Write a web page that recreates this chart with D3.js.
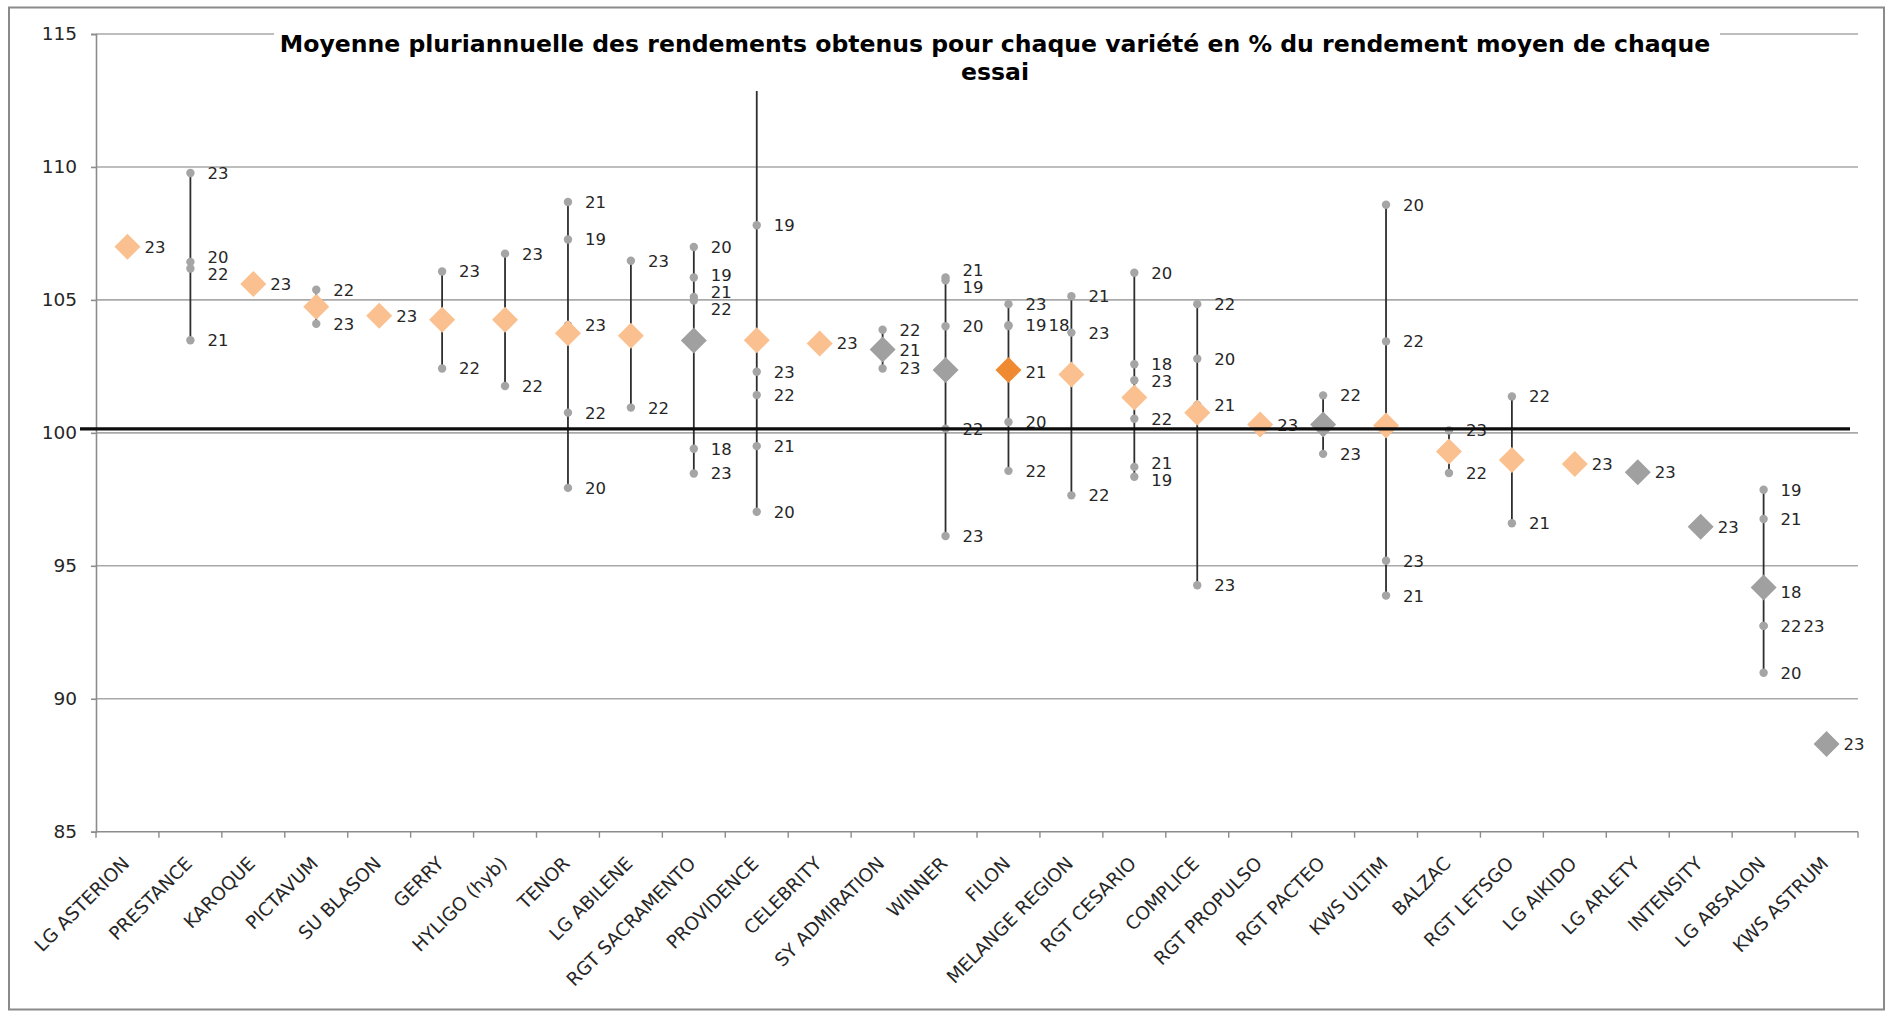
<!DOCTYPE html>
<html>
<head>
<meta charset="utf-8">
<script src="https://cdn.jsdelivr.net/npm/d3@7"></script>
<style>
  html, body { margin: 0; padding: 0; background: #fff; }
  svg { display: block; }
  text { font-family: "DejaVu Sans", Verdana, sans-serif; }
</style>
</head>
<body>
<script>
// ---------------- DATA ----------------
const categories = ["LG ASTERION","PRESTANCE","KAROQUE","PICTAVUM","SU BLASON","GERRY","HYLIGO (hyb)","TENOR","LG ABILENE","RGT SACRAMENTO","PROVIDENCE","CELEBRITY","SY ADMIRATION","WINNER","FILON","MELANGE REGION","RGT CESARIO","COMPLICE","RGT PROPULSO","RGT PACTEO","KWS ULTIM","BALZAC","RGT LETSGO","LG AIKIDO","LG ARLETY","INTENSITY","LG ABSALON","KWS ASTRUM"];

// multi-year mean (diamond), null = no diamond
const meanValues = [107.0, null, 105.6, 104.74, 104.4, 104.25, 104.25, 103.75, 103.65, 103.47, 103.48, 103.36, 103.13, 102.36, 102.36, 102.19, 101.33, 100.76, 100.31, 100.31, 100.28, 99.30, 98.98, 98.83, 98.52, 96.47, 94.18, 88.30];
// diamond group: "o" = light orange, "g" = grey, "d" = dark orange
const meanGroup = ["o", null, "o","o","o","o","o","o","o","g","o","o","g","g","d","o","o","o","o","g","o","o","o","o","g","g","g","g"];

const yearLabels = ["18","19","20","21","22","23"];
const year18 = [null,null,null,null,null,null,null,null,null,99.40,null,null,null,null,104.02,null,102.58,null,null,null,null,null,null,null,null,null,94.00,null];
const year19 = [null,null,null,null,null,null,null,107.27,null,105.84,107.81,null,null,105.74,104.05,null,98.35,null,null,null,null,null,null,null,null,null,97.86,null];
const year20 = [null,106.43,null,null,null,null,null,97.93,null,106.99,97.03,null,null,104.01,100.41,null,106.02,102.79,null,null,108.58,null,null,null,null,null,90.98,null];
const year21 = [null,103.48,null,null,null,null,null,108.68,null,105.11,99.50,null,103.10,105.84,102.27,105.14,98.72,101.05,null,null,93.88,null,96.60,null,null,null,96.76,null];
const year22 = [null,106.18,null,105.38,null,102.42,101.76,100.76,100.95,104.98,101.42,null,103.88,100.16,98.57,97.65,100.53,104.84,null,101.41,103.44,98.49,101.37,null,null,null,92.74,null];
const year23 = [107.0,109.77,105.6,104.10,104.4,106.07,106.74,104.05,106.47,98.47,102.3,103.36,102.42,96.12,104.84,103.77,101.98,94.27,100.31,99.21,95.19,100.09,null,98.83,98.52,96.47,92.74,88.30];
// unlabelled extreme that only extends the min-max line
const extraExtent = [null,null,null,null,null,null,null,null,null,null,112.86,null,null,null,null,null,null,null,null,null,null,null,null,null,null,null,null,null];

const referenceValue = 100.15;
const yTicks = [85, 90, 95, 100, 105, 110, 115];
const titleLines = ["Moyenne pluriannuelle des rendements obtenus pour chaque variété en % du rendement moyen de chaque", "essai"];

// ---------------- LAYOUT ----------------
const W = 1888, H = 1012;
const plot = { left: 96, right: 1858, top: 34, bottom: 831.7 };

const svg = d3.select("body").append("svg").attr("width", W).attr("height", H);
svg.append("rect").attr("width", W).attr("height", H).attr("fill", "#fff");
svg.append("rect").attr("x", 9).attr("y", 7.5).attr("width", 1875).attr("height", 1002)
  .attr("fill", "none").attr("stroke", "#8a8a8a").attr("stroke-width", 2);

const x = d3.scaleBand().domain(categories).range([plot.left, plot.right]).padding(0);
const y = d3.scaleLinear().domain([85, 115]).range([plot.bottom, plot.top]);
const cx = c => x(c) + x.bandwidth() / 2;

// gridlines
svg.append("g").selectAll("line").data(yTicks.filter(t => t > 85)).join("line")
  .attr("x1", plot.left).attr("x2", plot.right)
  .attr("y1", d => y(d)).attr("y2", d => y(d))
  .attr("stroke", "#a9a9a9").attr("stroke-width", 1.6);

// y axis
const yAxis = d3.axisLeft(y).tickValues(yTicks).tickSize(5).tickPadding(14).tickFormat(d3.format("d"));
const gy = svg.append("g").attr("transform", `translate(${plot.left},0)`).call(yAxis);
gy.select(".domain").attr("stroke", "#8c8c8c").attr("stroke-width", 1.6);
gy.selectAll(".tick line").attr("stroke", "#8c8c8c").attr("stroke-width", 1.6);
gy.selectAll(".tick text").attr("font-size", 18.5).attr("fill", "#262626").attr("font-family", "DejaVu Sans");

// x axis
const gx = svg.append("g").attr("transform", `translate(0,${plot.bottom})`);
gx.append("line").attr("x1", plot.left).attr("x2", plot.right).attr("stroke", "#8c8c8c").attr("stroke-width", 1.6);
const bounds = categories.map(c => x(c)).concat([plot.right]);
gx.selectAll("line.tk").data(bounds).join("line").attr("class", "tk")
  .attr("x1", d => d).attr("x2", d => d).attr("y1", 0).attr("y2", 6)
  .attr("stroke", "#8c8c8c").attr("stroke-width", 1.4);
gx.selectAll("text").data(categories).join("text")
  .attr("transform", d => `translate(${cx(d) + 3},${33}) rotate(-45)`)
  .attr("text-anchor", "end")
  .attr("font-size", 18.5).attr("fill", "#262626")
  .text(d => d);

// title (white background over the top gridline)
const tg = svg.append("g");
const titleBg = tg.append("rect").attr("fill", "#fff");
const t1 = tg.append("text").attr("x", 995).attr("y", 52).attr("text-anchor", "middle")
  .attr("font-weight", "bold").attr("font-size", 20).attr("fill", "#000").text(titleLines[0]);
const w1 = t1.node().getComputedTextLength();
const fs = 20 * 1431 / w1;
t1.attr("font-size", fs);
tg.append("text").attr("x", 995).attr("y", 80).attr("text-anchor", "middle")
  .attr("font-weight", "bold").attr("font-size", fs).attr("fill", "#000").text(titleLines[1]);
titleBg.attr("x", 274).attr("y", 24).attr("width", 1720 - 274).attr("height", 20);

// ---------------- MARKS ----------------
const yearSeries = [year18, year19, year20, year21, year22, year23];
const points = [];
categories.forEach((c, i) => {
  yearSeries.forEach((s, k) => {
    if (s[i] != null) points.push({ cat: c, idx: i, year: yearLabels[k], v: s[i] });
  });
});

// min-max lines
const ranges = categories.map((c, i) => {
  const vals = yearSeries.map(s => s[i]).filter(v => v != null);
  if (extraExtent[i] != null) vals.push(extraExtent[i]);
  return { cat: c, lo: d3.min(vals), hi: d3.max(vals), n: vals.length };
}).filter(r => r.n >= 2);

svg.append("g").selectAll("line").data(ranges).join("line")
  .attr("x1", d => cx(d.cat)).attr("x2", d => cx(d.cat))
  .attr("y1", d => y(d.hi)).attr("y2", d => y(d.lo))
  .attr("stroke", "#2e2e2e").attr("stroke-width", 1.8);

// year dots
svg.append("g").selectAll("circle").data(points).join("circle")
  .attr("cx", d => cx(d.cat)).attr("cy", d => y(d.v)).attr("r", 4.2)
  .attr("fill", "#a5a5a5");

// mean diamonds
const groupColor = { o: "#fac08f", g: "#a0a0a0", d: "#f08a32" };
const means = categories.map((c, i) => ({ cat: c, v: meanValues[i], g: meanGroup[i] })).filter(d => d.v != null);
svg.append("g").selectAll("path").data(means).join("path")
  .attr("transform", d => `translate(${cx(d.cat)},${y(d.v)})`)
  .attr("d", "M0,-13L13,0L0,13L-13,0Z")
  .attr("fill", d => groupColor[d.g]);

// labels with simple collision handling
const labelG = svg.append("g");
const byCat = d3.group(points, d => d.idx);
byCat.forEach((pts) => {
  const items = pts.map(p => ({ text: p.year, y: y(p.v), x: cx(p.cat) + 17 }))
    .sort((a, b) => a.y - b.y);
  // merge near-identical positions side by side
  const groups = [];
  items.forEach(it => {
    const last = groups[groups.length - 1];
    if (last && Math.abs(it.y - last.y) < 2) last.texts.push(it.text);
    else groups.push({ y: it.y, x: it.x, texts: [it.text] });
  });
  // push apart vertically
  const gap = 17;
  for (let iter = 0; iter < 40; iter++) {
    let moved = false;
    for (let k = 1; k < groups.length; k++) {
      const d = groups[k].y - groups[k - 1].y;
      if (d < gap - 0.01) {
        const s = (gap - d) / 2;
        groups[k - 1].y -= s; groups[k].y += s; moved = true;
      }
    }
    if (!moved) break;
  }
  groups.forEach(gp => {
    let xx = gp.x;
    gp.texts.forEach(t => {
      const te = labelG.append("text").attr("x", xx).attr("y", gp.y).attr("dy", "0.36em")
        .attr("font-size", 16.5).attr("fill", "#262626").text(t);
      xx += te.node().getComputedTextLength() + 2;
    });
  });
});

// reference line at ~100
svg.append("line")
  .attr("x1", plot.left - 16).attr("x2", plot.right - 8)
  .attr("y1", y(referenceValue)).attr("y2", y(referenceValue))
  .attr("stroke", "#0d0d0d").attr("stroke-width", 3.4);
</script>
</body>
</html>
